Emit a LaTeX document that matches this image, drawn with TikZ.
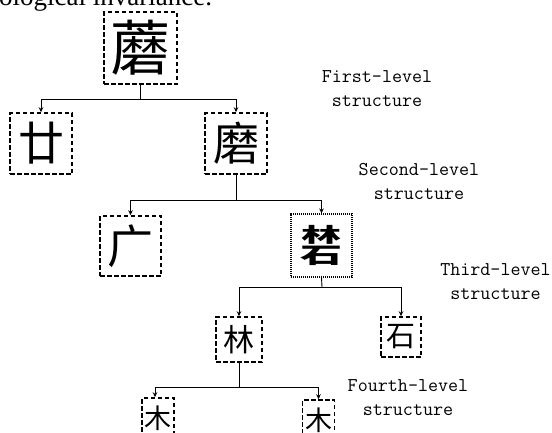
\documentclass[tikz,border=0pt]{standalone}
\usepackage{fontspec}
\newfontfamily\cjk{Noto Sans CJK SC}
\newfontfamily\capfont{Liberation Serif}
\usetikzlibrary{arrows.meta}
\tikzset{
  x=1pt, y=-1pt,
  chbox/.style={draw, line width=1.5pt, dash pattern=on 4.5pt off 2.5pt, inner sep=0pt, font=\cjk},
  dotbox/.style={draw, line width=1.2pt, dash pattern=on 1.2pt off 0.8pt, inner sep=0pt, font=\cjk\bfseries},
  conn/.style={line width=0.9pt},
  arr/.style={conn, -{Stealth[length=5pt,width=4.5pt]}},
  lvl/.style={anchor=north, inner sep=0pt, align=center, font=\ttfamily\fontsize{19.5}{24}\selectfont}
}
\begin{document}
\begin{tikzpicture}
\useasboundingbox (0,0) rectangle (552,432);
\clip (0,0) rectangle (552,432);
\fill[white] (0,0) rectangle (552,432);
% caption fragment (cut off at the top)
\node[anchor=base west, inner sep=0pt, font=\capfont\fontsize{27}{27}\selectfont] (cap) at (-1,5) {ological invariance.};
% boxes
\node[chbox, minimum width=73pt, minimum height=72pt, font=\cjk\fontsize{60}{60}\selectfont] (top) at (140.5,48) {蘑};
\node[chbox, minimum width=62pt, minimum height=61pt, font=\cjk\fontsize{46}{46}\selectfont] (n1) at (41,143.5) {廿};
\node[chbox, minimum width=62pt, minimum height=61pt, font=\cjk\fontsize{46}{46}\selectfont] (n2) at (236,143.5) {磨};
\node[chbox, minimum width=61pt, minimum height=60pt, font=\cjk\fontsize{46}{46}\selectfont] (n3) at (130.5,246) {广};
\node[dotbox, minimum width=61pt, minimum height=63pt, align=center, font=\cjk\bfseries\fontsize{40}{21}\selectfont] (n4) at (321.5,245.5) {\scalebox{1}[0.5]{林}\\\scalebox{1.05}[0.55]{石}};
\node[chbox, minimum width=46pt, minimum height=45pt, font=\cjk\fontsize{31}{31}\selectfont] (n5) at (239,339.5) {林};
\node[chbox, minimum width=40pt, minimum height=40pt, font=\cjk\fontsize{29}{29}\selectfont] (n6) at (401,337) {石};
\node[chbox, minimum width=32pt, minimum height=40pt, font=\cjk\fontsize{27}{27}\selectfont] (n7) at (158,418) {木};
\node[chbox, minimum width=32pt, minimum height=40pt, font=\cjk\fontsize{27}{27}\selectfont] (n8) at (318.5,420) {木};
% junctions
\coordinate (j1) at (140.5,99);
\coordinate (j2) at (236,200);
\coordinate (j3) at (322,287);
\coordinate (j4) at (239,387);
% connectors
\draw[conn] (top.south) -- (j1);
\draw[arr] (j1) -| (n1.north);
\draw[arr] (j1) -| (n2.north);
\draw[conn] (n2.south) -- (j2);
\draw[arr] (j2) -| (n3.north);
\draw[arr] (j2) -| (n4.north);
\draw[conn] (n4.south) -- (j3);
\draw[arr] (j3) -| (n5.north);
\draw[arr] (j3) -| (n6.north);
\draw[conn] (n5.south) -- (j4);
\draw[arr] (j4) -| ([xshift=-3pt]n7.north);
\draw[arr] (j4) -| (n8.north);
% level labels
\node[lvl] (l1) at (377,70) {First-level\\structure};
\node[lvl] (l2) at (419,163) {Second-level\\structure};
\node[lvl] (l3) at (495.5,263) {Third-level\\structure};
\node[lvl] (l4) at (408,379) {Fourth-level\\structure};
\end{tikzpicture}
\end{document}
